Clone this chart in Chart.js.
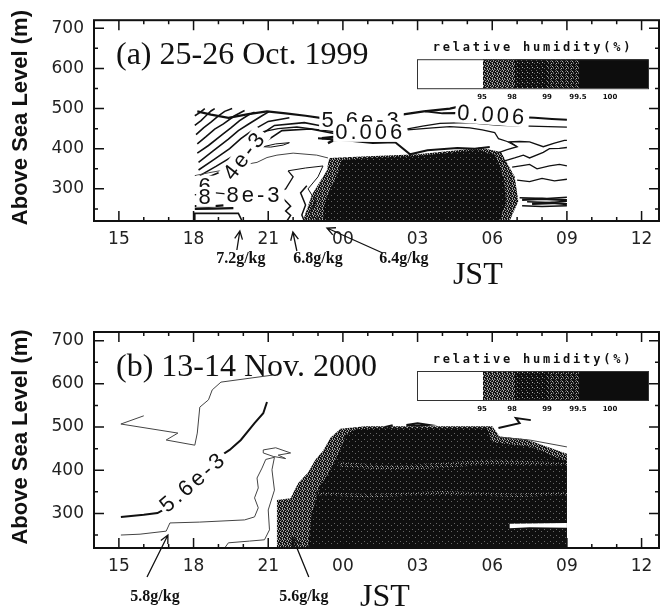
<!DOCTYPE html>
<html>
<head>
<meta charset="utf-8">
<script src="https://cdn.jsdelivr.net/npm/chart.js@4.4.1/dist/chart.umd.min.js"></script>
<style>
html, body { margin: 0; padding: 0; background: #fff; }
#wrap { position: relative; width: 666px; height: 613px; overflow: hidden; }
#chartA { position: absolute; left: 0; top: 0; }
#chartB { position: absolute; left: 0; top: 300px; }
</style>
</head>
<body>
<div id="wrap">
  <canvas id="chartA" width="666" height="300"></canvas>
  <canvas id="chartB" width="666" height="313"></canvas>
</div>
<script>
// x values are hours JST counted from 00 of the first day (24 = 00 next day)
const xTickHours = [15, 18, 21, 24, 27, 30, 33, 36];
const xTickLabels = ['15', '18', '21', '00', '03', '06', '09', '12'];
const yTickValues = [300, 400, 500, 600, 700];
const rhLevels = ['95', '98', '99', '99.5', '100'];

// ---- panel (a) 25-26 Oct 1999 : humid area (RH >= 95 %) [hour, m]
const humidA_edge = [[22.4,220],[22.5,240],[22.75,285],[23.05,315],[23.35,345],[23.45,377],[25.0,381],[27.0,386],[28.6,396],[29.5,403],[30.35,392],[30.9,331],[31.05,269],[30.7,220]];
const humidA_core = [[23.2,220],[23.25,260],[23.5,300],[23.8,340],[23.95,372],[25.0,377],[27.0,382],[29.4,397],[30.1,385],[30.45,331],[30.55,269],[30.3,220]];

// specific humidity contours, panel (a)
const contA_56 = [[18.15,493],[18.7,485],[19.4,477],[20.2,486],[20.95,493],[21.7,488],[22.5,482],[23.3,475],[23.9,472],[25.5,476],[26.5,486],[27.25,493],[28.3,500],[28.8,507]];
const contA_6top = [[27.3,493],[28.0,488],[28.55,489],[29.5,486],[30.3,482],[31.0,479],[31.7,477],[32.4,474],[33.0,472]];
const contA_6mid = [[20.75,442],[21.4,450],[22.15,454],[22.9,448],[23.7,442],[25.1,442],[26.55,449],[27.2,456],[27.9,463],[29.0,465],[29.6,462],[30.3,458],[31.5,456],[33.0,454]];
const contA_steep = [
  [[18.05,482],[18.25,490],[18.45,500]],
  [[18.05,458],[18.3,470],[18.5,482],[18.7,494],[18.85,500]],
  [[18.1,435],[18.4,452],[18.7,466],[19.0,482],[19.25,493],[19.55,500]],
  [[18.15,412],[18.5,430],[18.85,449],[19.2,462],[19.65,482],[20.05,495]],
  [[18.15,389],[18.6,408],[19.15,435],[19.5,452],[19.85,470],[20.2,484],[20.45,491]],
  [[18.2,366],[18.8,395],[19.4,424],[19.8,445],[20.2,461],[20.75,482],[21.05,493]],
  [[18.2,347],[18.8,372],[19.45,400],[19.9,425],[20.35,445],[21.0,468],[21.85,477]],
  [[18.25,333],[18.9,356],[19.65,384],[20.1,410],[20.6,431],[21.25,458],[22.45,465],[23.05,458]],
  [[18.25,320],[19.0,340],[19.85,361],[20.3,390],[20.75,412],[21.55,445],[22.7,449],[23.9,435]]
];
const contA_vee = [[23.0,426],[24.3,420],[25.2,414],[26.1,416],[26.7,386],[27.4,396],[28.6,402],[29.3,400],[29.9,404]];
const contA_dash = [[23.15,426],[23.8,430],[24.5,431],[23.6,420],[23.4,414]];
const contA_upper = [[26.6,447],[27.6,452],[28.3,455],[29.1,452],[29.6,447],[30.1,440],[30.25,425],[30.6,418],[31.0,405]];
const contA_mid = [[18.05,333],[18.6,340],[19.05,345],[19.75,357],[20.55,366],[20.95,378],[21.35,384],[22.0,389],[22.95,384],[23.4,377]];
const contA_lens = [[20.8,405],[21.3,412],[21.85,415],[21.6,409],[21.1,404],[20.8,405]];
const contA_wedge = [[21.8,345],[22.5,352],[23.2,357],[23.0,330],[22.6,300],[22.9,270],[22.7,240],[22.85,220]];
const contA_low = [[18.05,285],[18.6,292],[19.2,288],[19.8,284],[20.5,280],[21.3,290],[21.7,300],[22.0,330],[21.8,345]];
const contA_wavy = [
  [[21.6,276],[21.9,257],[21.7,245],[21.9,234],[21.75,220]],
  [[22.55,308],[22.3,290],[22.5,260],[22.35,235],[22.45,220]]
];
const contA_box = [[18.05,220],[18.05,239],[19.8,239],[19.95,220]];
const contA_base = [
  [[18.05,257],[18.6,256],[19.2,259]],
  [[18.05,250],[18.8,251],[19.6,252]]
];
const contA_right = [
  [[30.2,389],[30.6,398],[31.0,405],[30.7,417],[31.1,418],[31.5,417],[32.05,405],[32.5,414],[32.9,421],[33.0,421]],
  [[30.4,368],[30.9,377],[31.25,384],[31.5,377],[32.05,391],[32.3,400],[32.7,401],[33.0,403]],
  [[30.8,354],[31.2,358],[31.5,361],[31.8,350],[32.3,357],[32.7,361],[33.0,357]],
  [[31.0,322],[31.5,318],[32.0,326],[32.5,320],[33.0,324]]
];
const contA_bundle = [
  [[31.1,278],[32.2,276],[33.0,279]],
  [[31.2,273],[32.0,275],[33.0,272]],
  [[31.4,268],[32.3,266],[33.0,269]],
  [[31.6,263],[32.4,265],[33.0,262]],
  [[31.2,258],[32.0,256],[33.0,258]]
];
const labelsA = [
  { text: '5.6e-3', x: 24.75, y: 472, rot: 0 },
  { text: '0.006', x: 30.0, y: 484, rot: 4 },
  { text: '0.006', x: 25.1, y: 442, rot: 0 },
  { text: '4e-3', x: 20.05, y: 384, rot: -52 },
  { text: '8e-3', x: 20.45, y: 285, rot: 0 },
  { text: '6', x: 18.5, y: 308, rot: 0 },
  { text: '8', x: 18.5, y: 280, rot: 0 }
];
const notesA = [
  { text: '7.2g/kg', tipX: 19.86, tipDy: 10, tailX: 19.74, tailDy: 29, textX: 19.9, textDy: 38 },
  { text: '6.8g/kg', tipX: 21.99, tipDy: 11, tailX: 22.15, tailDy: 30, textX: 23.0, textDy: 38 },
  { text: '6.4g/kg', tipX: 23.36, tipDy: 7, tailX: 25.6, tailDy: 32, textX: 26.45, textDy: 38 }
];

// ---- panel (b) 13-14 Nov 2000
const humidB_edge = [[21.35,220],[21.35,331],[21.9,335],[22.2,370],[22.6,395],[22.9,425],[23.2,445],[23.5,475],[23.9,496],[24.9,502],[27.2,502],[30.0,502],[30.3,478],[31.35,472],[33.0,438],[33.0,220]];
const humidB_core = [[22.6,220],[22.75,300],[23.05,360],[23.5,400],[23.85,440],[24.1,480],[24.5,495],[25.5,497],[27.5,497],[29.8,497],[30.0,465],[31.5,455],[33.0,420],[33.0,220]];
const humidB_band1 = [[23.8,420],[26.0,410],[28.0,418],[30.0,425],[33.0,418],[33.0,410],[30.0,414],[28.0,405],[26.0,400],[23.9,408]];
const humidB_band2 = [[22.9,350],[25.0,345],[28.0,352],[31.0,346],[33.0,350],[33.0,342],[31.0,338],[28.0,344],[25.0,337],[23.0,342]];
const humidB_gap = [[30.7,266],[31.5,268],[33.0,267],[33.0,278],[31.5,277],[30.7,276]];

const contB_upper = [[16.0,526],[15.08,507],[17.37,486],[16.9,470],[18.05,458],[18.15,486],[18.25,546],[18.6,563],[18.75,586],[19.1,604],[21.15,620]];
const contB_56 = [[15.08,292],[16.0,297],[16.55,301],[17.0,315],[18.0,374],[19.0,430],[19.45,447],[19.9,470],[20.45,509],[20.8,532],[20.95,558]];
const contB_58 = [[15.08,250],[15.85,252],[16.9,259],[17.05,278],[18.25,280],[20.05,285],[20.45,292],[20.6,313],[20.45,336],[20.6,359],[20.55,382],[20.75,405],[20.9,425],[21.25,430],[21.15,401],[21.25,354],[21.0,308],[21.05,262],[20.85,239],[20.25,236],[19.4,232],[19.25,220]];
const contB_loop = [[20.8,447],[21.3,452],[21.9,440],[21.4,435],[21.7,427],[21.2,432],[20.8,440],[20.8,447]];
const contB_right = [[30.2,477],[31.5,470],[33.0,454]];
const contB_top = [[30.25,498],[31.1,509],[30.95,521],[31.55,516]];
const contB_lens = [[26.55,505],[27.0,509],[27.45,505],[27.0,503],[26.55,505]];
const contB_tick = [[25.7,500],[26.0,504]];
const labelsB = [
  { text: '5.6e-3', x: 17.98, y: 373, rot: -41 }
];
const notesB = [
  { text: '5.8g/kg', tipX: 16.97, tipDy: -13, tailX: 16.13, tailDy: 29, textX: 16.45, textDy: 49 },
  { text: '5.6g/kg', tipX: 21.99, tipDy: -10, tailX: 22.63, tailDy: 29, textX: 22.43, textDy: 49 }
];

// halftone tiles used for the shading
const edgeTile = ['#+#.#', '.##+#', '#+.##', '##+#.', '+#.#+'];
const coreTile = ['######', '####+#', '######', '#+####', '######', '######'];
const midTile = ['#+###', '+#.##', '###+#', '#.#+#', '+####'];
const darkTile = ['#+###', '#####', '##.##', '####+', '#####'];
const tileColors = { '#': '#0f0f0f', '.': '#b4b4b4', '+': '#666' };

function makePattern(ctx, rows) {
  const c = document.createElement('canvas');
  c.width = rows[0].length;
  c.height = rows.length;
  const g = c.getContext('2d');
  rows.forEach((row, y) => {
    for (let x = 0; x < row.length; x++) {
      g.fillStyle = tileColors[row[x]];
      g.fillRect(x, y, 1, 1);
    }
  });
  return ctx.createPattern(c, 'repeat');
}

function toPts(arr) {
  return arr.map(p => ({ x: p[0], y: p[1] }));
}

const panelA = {
  canvas: 'chartA', top: 5, axisH: 79,
  title: '(a) 25-26 Oct. 1999',
  shades: [
    { pts: humidA_edge, pat: 'edge' },
    { pts: humidA_core, pat: 'core' }
  ],
  lines: [
    { pts: contA_56, w: 2.2 }, { pts: contA_6top, w: 2 }, { pts: contA_6mid, w: 1.3 },
    ...contA_steep.map(p => ({ pts: p, w: 1.6 })),
    { pts: contA_vee, w: 2 }, { pts: contA_dash, w: 2.6 }, { pts: contA_upper, w: 1.2 },
    { pts: contA_mid, w: 1, c: '#444' }, { pts: contA_lens, w: 1 }, { pts: contA_wedge, w: 1 },
    { pts: contA_low, w: 1.3 },
    ...contA_wavy.map(p => ({ pts: p, w: 1.5 })),
    { pts: contA_box, w: 1.6 },
    ...contA_base.map(p => ({ pts: p, w: 2.2 })),
    ...contA_right.map(p => ({ pts: p, w: 1.3 })),
    ...contA_bundle.map((p, i) => ({ pts: p, w: i % 2 ? 2.4 : 1.4 }))
  ],
  labels: labelsA, notes: notesA, jstX: 29.42, jstDy: 55
};

const panelB = {
  canvas: 'chartB', top: 32, axisH: 65,
  title: '(b) 13-14 Nov. 2000',
  shades: [
    { pts: humidB_edge, pat: 'edge' },
    { pts: humidB_core, pat: 'core' },
    { pts: humidB_band1, pat: 'mid' },
    { pts: humidB_band2, pat: 'mid' },
    { pts: humidB_gap, color: '#fff' }
  ],
  lines: [
    { pts: contB_upper, w: 1, c: '#444' }, { pts: contB_56, w: 2 }, { pts: contB_58, w: 1, c: '#444' },
    { pts: contB_loop, w: 1, c: '#444' }, { pts: contB_right, w: 1, c: '#444' },
    { pts: contB_top, w: 2 }, { pts: contB_lens, w: 2 }, { pts: contB_tick, w: 2 }
  ],
  labels: labelsB, notes: notesB, jstX: 25.69, jstDy: 50
};

function decor(panel, pats) {
  return {
    id: 'decor' + panel.canvas,
    afterDatasetsDraw(chart) {
      const { ctx, chartArea: a, scales: { x, y } } = chart;
      ctx.save();
      ctx.beginPath();
      ctx.rect(a.left, a.top, a.right - a.left, a.bottom - a.top);
      ctx.clip();
      ctx.font = '22px "Liberation Sans"';
      ctx.letterSpacing = '3px';
      ctx.textAlign = 'center';
      ctx.textBaseline = 'middle';
      panel.labels.forEach(l => {
        const w = ctx.measureText(l.text).width;
        ctx.save();
        ctx.translate(x.getPixelForValue(l.x), y.getPixelForValue(l.y));
        ctx.rotate(l.rot * Math.PI / 180);
        ctx.fillStyle = '#fff';
        ctx.fillRect(-w / 2 - 2, -10, w + 4, 20);
        ctx.fillStyle = '#111';
        ctx.fillText(l.text, 0, 1);
        ctx.restore();
      });
      ctx.restore();
    },
    afterDraw(chart) {
      const { ctx, chartArea: a, scales: { x, y } } = chart;
      ctx.save();
      ctx.strokeStyle = '#111';
      ctx.fillStyle = '#111';
      // frame
      ctx.lineWidth = 2;
      ctx.strokeRect(a.left, a.top, a.right - a.left, a.bottom - a.top);
      // inward ticks on all four sides
      ctx.lineWidth = 1.5;
      ctx.beginPath();
      for (let h = 14; h <= 36; h++) {
        const px = x.getPixelForValue(h);
        const len = h % 3 === 0 ? 10 : 4;
        ctx.moveTo(px, a.bottom); ctx.lineTo(px, a.bottom - len);
        ctx.moveTo(px, a.top); ctx.lineTo(px, a.top + len);
      }
      for (let m = 250; m <= 700; m += 50) {
        const py = y.getPixelForValue(m);
        const len = m % 100 === 0 ? 10 : 4;
        ctx.moveTo(a.left, py); ctx.lineTo(a.left + len, py);
        ctx.moveTo(a.right, py); ctx.lineTo(a.right - len, py);
      }
      ctx.stroke();

      // y axis title
      ctx.save();
      ctx.translate(21, (a.top + a.bottom) / 2 - 3);
      ctx.rotate(-Math.PI / 2);
      ctx.font = 'bold 22px "Liberation Sans"';
      ctx.textAlign = 'center';
      ctx.textBaseline = 'middle';
      ctx.fillText('Above Sea Level (m)', 0, 0);
      ctx.restore();

      // panel title
      ctx.font = '32px "Liberation Serif"';
      ctx.textAlign = 'left';
      ctx.textBaseline = 'alphabetic';
      ctx.fillText(panel.title, a.left + 22, a.top + 44);

      // colour bar
      const bx = a.left + 323, bt = a.top + 39, bh = 29;
      const stops = [0, 66, 98, 130, 163, 231];
      const fills = ['#fff', pats.edge, pats.dark, pats.mid, '#0d0d0d'];
      for (let i = 0; i < fills.length; i++) {
        ctx.fillStyle = fills[i];
        ctx.fillRect(bx + stops[i], bt, stops[i + 1] - stops[i], bh);
      }
      ctx.lineWidth = 1;
      ctx.strokeStyle = '#333';
      ctx.strokeRect(bx + 0.5, bt + 0.5, 231, bh);
      ctx.fillStyle = '#111';
      ctx.font = 'bold 12px "DejaVu Sans Mono"';
      ctx.letterSpacing = '2.8px';
      ctx.textAlign = 'center';
      ctx.textBaseline = 'middle';
      ctx.fillText('relative humidity(%)', bx + 116, a.top + 28);
      ctx.letterSpacing = '0px';
      ctx.font = 'bold 7px "DejaVu Sans"';
      const labelAt = [65, 95, 130, 161, 193];
      rhLevels.forEach((t, i) => ctx.fillText(t, bx + labelAt[i], a.top + 77));

      // arrows with humidity notes
      ctx.strokeStyle = '#111';
      ctx.lineWidth = 1.3;
      panel.notes.forEach(n => {
        const tx = x.getPixelForValue(n.tipX), ty = a.bottom + n.tipDy;
        const sx = x.getPixelForValue(n.tailX), sy = a.bottom + n.tailDy;
        const ang = Math.atan2(ty - sy, tx - sx);
        ctx.beginPath();
        ctx.moveTo(sx, sy); ctx.lineTo(tx, ty);
        ctx.moveTo(tx - 9 * Math.cos(ang - 0.45), ty - 9 * Math.sin(ang - 0.45));
        ctx.lineTo(tx, ty);
        ctx.lineTo(tx - 9 * Math.cos(ang + 0.45), ty - 9 * Math.sin(ang + 0.45));
        ctx.stroke();
        ctx.font = 'bold 16px "Liberation Serif"';
        ctx.fillText(n.text, x.getPixelForValue(n.textX), a.bottom + n.textDy);
      });
      ctx.font = '32px "Liberation Serif"';
      ctx.fillText('JST', x.getPixelForValue(panel.jstX), a.bottom + panel.jstDy);
      ctx.restore();
    }
  };
}

function buildChart(panel) {
  const ctx = document.getElementById(panel.canvas).getContext('2d');
  const pats = {
    edge: makePattern(ctx, edgeTile),
    core: makePattern(ctx, coreTile),
    mid: makePattern(ctx, midTile),
    dark: makePattern(ctx, darkTile)
  };
  const datasets = [];
  panel.shades.forEach(s => datasets.push({
    data: toPts(s.pts), fill: 'shape',
    backgroundColor: s.pat ? pats[s.pat] : s.color,
    borderColor: 'rgba(0,0,0,0)', borderWidth: 0, pointRadius: 0
  }));
  panel.lines.forEach(l => datasets.push({
    data: toPts(l.pts), fill: false,
    borderColor: l.c || '#111', borderWidth: l.w, pointRadius: 0
  }));
  // chart.js paints higher 'order' first, so keep the list order bottom-to-top
  datasets.forEach((d, i) => { d.order = datasets.length - i; });

  return new Chart(ctx, {
    type: 'line',
    data: { datasets: datasets },
    options: {
      responsive: false,
      animation: false,
      layout: { padding: { top: panel.top, right: 7, left: 0, bottom: 0 } },
      plugins: { legend: { display: false }, tooltip: { enabled: false } },
      scales: {
        x: {
          type: 'linear', min: 14, max: 36.7,
          grid: { display: false, drawTicks: false },
          border: { display: false },
          afterBuildTicks: s => { s.ticks = xTickHours.map(v => ({ value: v })); },
          afterFit: s => { s.height = panel.axisH; },
          ticks: {
            autoSkip: false, maxRotation: 0, padding: 8, color: '#222',
            font: { family: 'DejaVu Sans', size: 17 },
            callback: (v, i) => xTickLabels[i]
          }
        },
        y: {
          type: 'linear', min: 220, max: 720,
          grid: { display: false, drawTicks: false },
          border: { display: false },
          afterBuildTicks: s => { s.ticks = yTickValues.map(v => ({ value: v })); },
          afterFit: s => { s.width = 94; },
          ticks: {
            padding: 10, color: '#222',
            font: { family: 'DejaVu Sans', size: 17 },
            callback: v => String(v)
          }
        }
      }
    },
    plugins: [decor(panel, pats)]
  });
}

buildChart(panelA);
buildChart(panelB);
</script>
</body>
</html>
